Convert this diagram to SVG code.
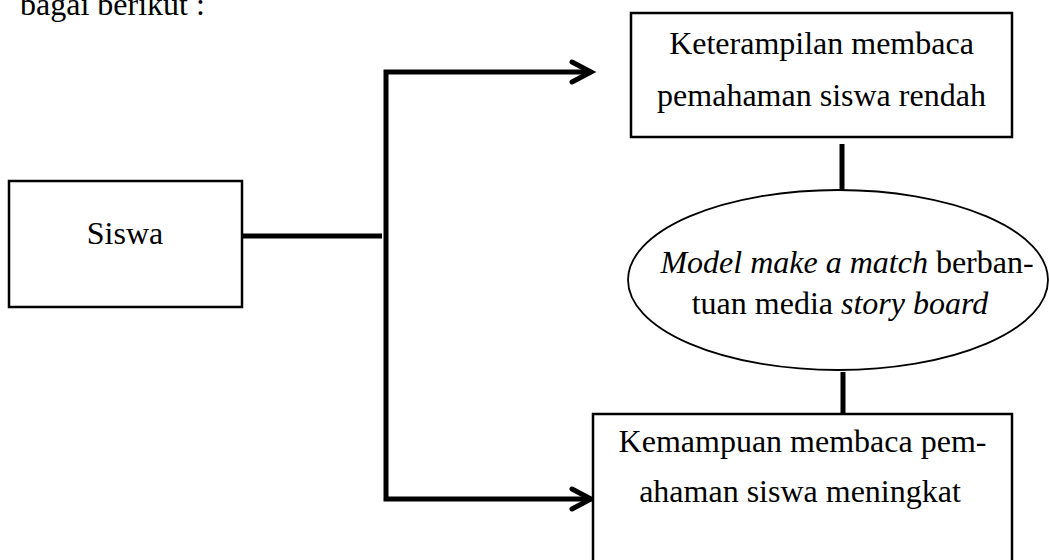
<svg xmlns="http://www.w3.org/2000/svg" width="1049" height="560" viewBox="0 0 1049 560">
<defs>
<style>
.t{font-family:"Liberation Serif","Times New Roman",serif;font-size:32px;fill:#000}
.i{font-style:italic}
.box{fill:#fff;stroke:#000;stroke-width:2.5}
.c{fill:none;stroke:#000;stroke-width:5;stroke-linecap:butt;stroke-linejoin:miter}
.ah{fill:none;stroke:#000;stroke-width:5;stroke-linecap:round;stroke-linejoin:miter}
</style>
</defs>
<rect width="1049" height="560" fill="#fff"/>
<text class="t" x="20" y="15">bagai berikut :</text>
<g id="connectors">
<line class="c" x1="242" y1="236" x2="382" y2="236"/>
<polyline class="c" points="590,72 386,72 386,499 590,499"/>
<polyline class="ah" points="572,62 591,72 572,82"/>
<polyline class="ah" points="572,489 591,499 572,509"/>
<line class="c" x1="842" y1="144" x2="842" y2="190"/>
<line class="c" x1="843" y1="372" x2="843" y2="414"/>
</g>
<g id="siswa">
<rect class="box" x="9" y="181" width="233" height="126"/>
<text class="t" x="125" y="244" text-anchor="middle">Siswa</text>
</g>
<g id="keterampilan">
<rect class="box" x="631" y="13" width="381" height="124"/>
<text class="t" x="821.5" y="54" text-anchor="middle">Keterampilan membaca</text>
<text class="t" x="821.5" y="106" text-anchor="middle">pemahaman siswa rendah</text>
</g>
<g id="model">
<ellipse cx="838" cy="280" rx="210" ry="90" fill="#fff" stroke="#000" stroke-width="1.8"/>
<text class="t" x="847" y="273" text-anchor="middle"><tspan class="i">Model make a match</tspan> berban-</text>
<text class="t" x="840" y="314" text-anchor="middle">tuan media <tspan class="i">story board</tspan></text>
</g>
<g id="kemampuan">
<rect class="box" x="593" y="414" width="419" height="170"/>
<text class="t" x="802.5" y="452" text-anchor="middle">Kemampuan membaca pem-</text>
<text class="t" x="800" y="502" text-anchor="middle">ahaman siswa meningkat</text>
</g>
</svg>
